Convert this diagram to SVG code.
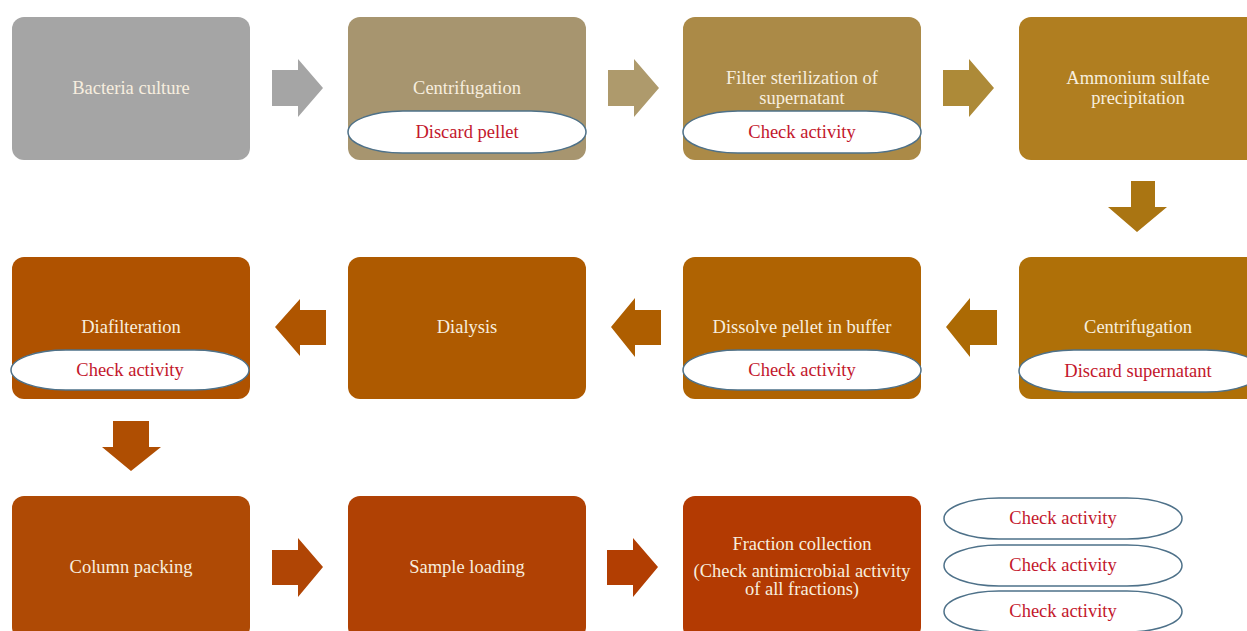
<svg xmlns="http://www.w3.org/2000/svg" width="1247" height="631" viewBox="0 0 1247 631">
<style>
.box{stroke:none}
.t{font-family:'Liberation Serif','DejaVu Serif',serif;font-size:18.5px;fill:#F7EEDF;text-anchor:middle}
.pill{fill:#FFFFFF;stroke:#4E7189;stroke-width:1.5}
.pt{font-family:'Liberation Serif','DejaVu Serif',serif;font-size:18.5px;fill:#C3172C;text-anchor:middle}
</style>
<rect width="1247" height="631" fill="#FFFFFF"/>
<g id="connectors">
<polygon points="272,70 298,70 298,59 323,88 298,117 298,106 272,106" fill="#A5A5A5"/>
<polygon points="608,70 634,70 634,59 659,88 634,117 634,106 608,106" fill="#AE9A6C"/>
<polygon points="943,70 969,70 969,59 994,88 969,117 969,106 943,106" fill="#AD8A38"/>
<polygon points="1131,181 1155,181 1155,207 1167,207 1137,232 1108,207 1131,207" fill="#AA7512"/>
<polygon points="997,310 970,310 970,298 946,327 970,357 970,345 997,345" fill="#AC6A04"/>
<polygon points="661,310 635,310 635,298 611,327 635,357 635,345 661,345" fill="#AE5E00"/>
<polygon points="326,310 300,310 300,299 275,327 300,356 300,345 326,345" fill="#AF5500"/>
<polygon points="113,421 149,421 149,447 161,447 131,471 102,447 113,447" fill="#AF4E02"/>
<polygon points="272,550 298,550 298,538 323,567 298,597 298,585 272,585" fill="#B04505"/>
<polygon points="607,550 633,550 633,538 658,567 633,597 633,585 607,585" fill="#B23E02"/>
</g>
<g id="n1"><rect class="box" x="12" y="17" width="238" height="143" rx="12" fill="#A5A5A5"/><text class="t" x="131" y="94">Bacteria culture</text></g>
<g id="n2"><rect class="box" x="348" y="17" width="238" height="143" rx="12" fill="#A7956F"/><text class="t" x="467" y="94">Centrifugation</text><rect class="pill" x="348" y="111" width="238" height="42" rx="55" ry="21"/><text class="pt" x="467" y="138">Discard pellet</text></g>
<g id="n3"><rect class="box" x="683" y="17" width="238" height="143" rx="12" fill="#AB8A47"/><text class="t" x="802" y="84">Filter sterilization of</text><text class="t" x="802" y="104">supernatant</text><rect class="pill" x="683" y="111" width="238" height="42" rx="55" ry="21"/><text class="pt" x="802" y="138">Check activity</text></g>
<g id="n4"><rect class="box" x="1019" y="17" width="240" height="143" rx="12" fill="#B07E20"/><text class="t" x="1138" y="84">Ammonium sulfate</text><text class="t" x="1138" y="104">precipitation</text></g>
<g id="n5"><rect class="box" x="1019" y="257" width="240" height="142" rx="12" fill="#AF7008"/><text class="t" x="1138" y="333">Centrifugation</text><rect class="pill" x="1019" y="350" width="242" height="42" rx="55" ry="21"/><text class="pt" x="1138" y="377">Discard supernatant</text></g>
<g id="n6"><rect class="box" x="683" y="257" width="238" height="142" rx="12" fill="#AF6302"/><text class="t" x="802" y="333">Dissolve pellet in buffer</text><rect class="pill" x="683" y="350" width="238" height="40" rx="55" ry="20"/><text class="pt" x="802" y="376">Check activity</text></g>
<g id="n7"><rect class="box" x="348" y="257" width="238" height="142" rx="12" fill="#AE5A00"/><text class="t" x="467" y="333">Dialysis</text></g>
<g id="n8"><rect class="box" x="12" y="257" width="238" height="142" rx="12" fill="#AF5200"/><text class="t" x="131" y="333">Diafilteration</text><rect class="pill" x="11" y="350" width="238" height="40" rx="55" ry="20"/><text class="pt" x="130" y="376">Check activity</text></g>
<g id="n9"><rect class="box" x="12" y="496" width="238" height="143" rx="12" fill="#AF4A05"/><text class="t" x="131" y="573">Column packing</text></g>
<g id="n10"><rect class="box" x="348" y="496" width="238" height="143" rx="12" fill="#B04104"/><text class="t" x="467" y="573">Sample loading</text></g>
<g id="n11"><rect class="box" x="683" y="496" width="238" height="143" rx="12" fill="#B33A02"/><text class="t" x="802" y="550">Fraction collection</text><text class="t" x="802" y="577">(Check antimicrobial activity</text><text class="t" x="802" y="595">of all fractions)</text></g>
<g id="p1"><rect class="pill" x="944" y="498" width="238" height="41" rx="55" ry="20.5"/><text class="pt" x="1063" y="524">Check activity</text></g>
<g id="p2"><rect class="pill" x="944" y="545" width="238" height="41" rx="55" ry="20.5"/><text class="pt" x="1063" y="571">Check activity</text></g>
<g id="p3"><rect class="pill" x="944" y="591" width="238" height="41" rx="55" ry="20.5"/><text class="pt" x="1063" y="617">Check activity</text></g>
</svg>
